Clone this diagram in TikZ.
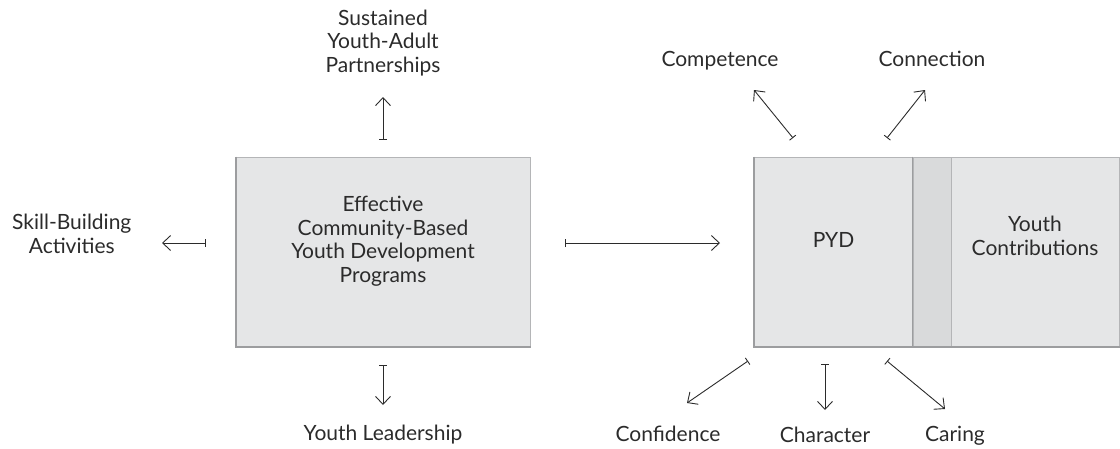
\documentclass[tikz,border=0pt]{standalone}
\usepackage{fontspec}
\setmainfont{Lato}
\usetikzlibrary{arrows.meta}
\definecolor{boxfill}{HTML}{E5E6E7}
\definecolor{boxline}{HTML}{B4B5B7}
\definecolor{boxedge}{HTML}{9C9D9F}
\definecolor{stripfill}{HTML}{D9DADB}
\definecolor{inkgray}{HTML}{2B2B2B}
\begin{document}
\begin{tikzpicture}[x=1pt,y=-1pt,
		box/.style={fill=boxfill,draw=boxline,line width=1pt,inner sep=0pt,minimum height=189pt},
		boxshade/.style={draw=boxedge,line width=2pt},
		lab/.style={align=center,font=\fontsize{21}{23.5}\selectfont,text=inkgray,inner sep=0pt},
		arr/.style={draw=inkgray,line width=0.9pt,{Bar[width=8pt]}-{Straight Barb[length=8pt,width=15pt]}}]
	\useasboundingbox (0,0) rectangle (1120,448);
	\node[box,minimum width=294pt] (prog) at (383,251.5) {};
	\node[box,minimum width=159pt] (pyd) at (833.5,251.5) {};
	\node[box,fill=stripfill,minimum width=38pt] (strip) at (932,251.5) {};
	\node[box,minimum width=168pt] (contrib) at (1035,251.5) {};
	\draw[boxshade] (prog.north west) -- (prog.south west) -- (prog.south east);
	\draw[boxshade] (pyd.north west) -- (pyd.south west) -- (contrib.south east);
	\draw[boxshade,line width=1.2pt] (strip.north west) -- (strip.south west);
	\node[lab] (progtext) at (383,241) {Effective\\Community-Based\\Youth Development\\Programs};
	\node[lab] (pydtext) at (833.5,240) {PYD};
	\node[lab] (contribtext) at (1035,236) {Youth\\Contributions};
	\node[lab] (sus) at (383,43) {Sustained\\Youth-Adult\\Partnerships};
	\node[lab,anchor=west] (skill) at (12,234) {Skill-Building\\Activities};
	\node[lab,anchor=base] (lead) at (383,440) {Youth Leadership};
	\node[lab,anchor=base] (comp) at (720,66) {Competence};
	\node[lab,anchor=base] (conn) at (932,66) {Connection};
	\node[lab,anchor=base] (conf) at (668,441) {Confidence};
	\node[lab,anchor=base] (char) at (825,442) {Character};
	\node[lab,anchor=base] (car) at (955,441) {Caring};
	\coordinate (sus-a) at (383,140);
	\coordinate (sus-b) at (383,97);
	\coordinate (skill-a) at (206,243);
	\coordinate (skill-b) at (162,243);
	\coordinate (lead-a) at (383,365);
	\coordinate (lead-b) at (383,405);
	\coordinate (mid-a) at (565,243);
	\coordinate (mid-b) at (720,243);
	\coordinate (comp-a) at (793,138);
	\coordinate (comp-b) at (754,90);
	\coordinate (conn-a) at (887,138);
	\coordinate (conn-b) at (925,90);
	\coordinate (conf-a) at (748,361);
	\coordinate (conf-b) at (687,403);
	\coordinate (char-a) at (825,364);
	\coordinate (char-b) at (825,410);
	\coordinate (car-a) at (887,361);
	\coordinate (car-b) at (945,409);
	\foreach \a in {sus,skill,lead,mid,comp,conn,conf,char,car}
		\draw[arr] (\a-a) -- (\a-b);
\end{tikzpicture}
\end{document}
